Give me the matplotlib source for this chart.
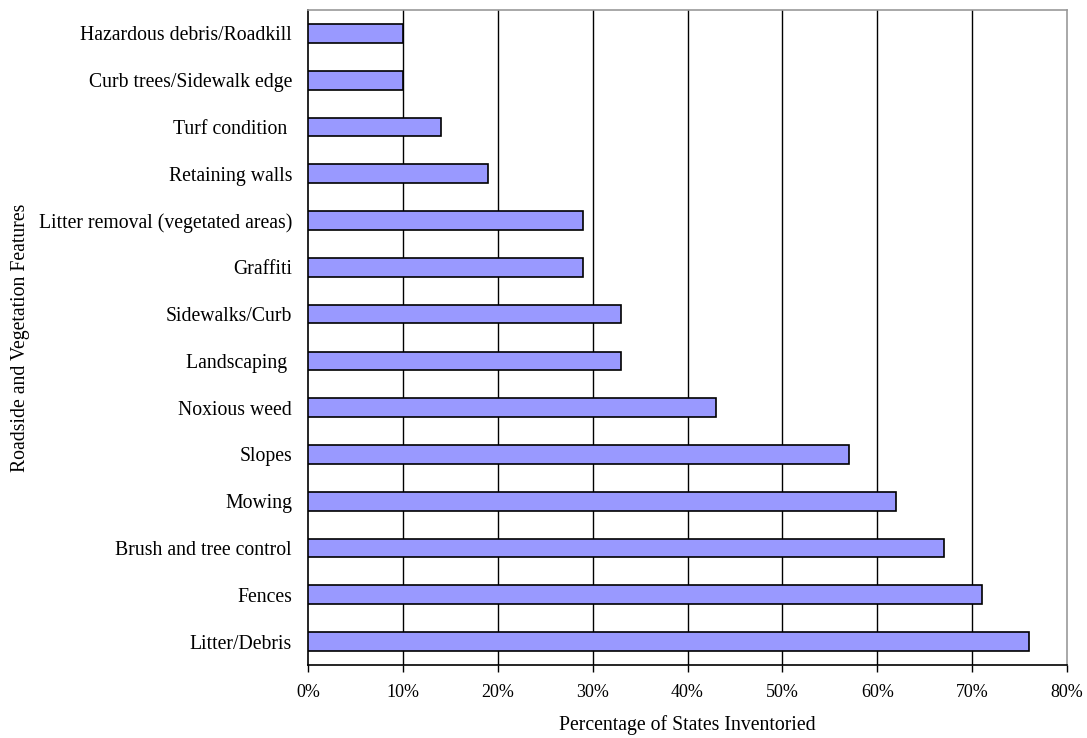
import matplotlib
matplotlib.use("Agg")
import matplotlib.pyplot as plt
from matplotlib.ticker import FuncFormatter

categories = ["Litter/Debris", "Fences", "Brush and tree control", "Mowing", "Slopes",
              "Noxious weed", "Landscaping ", "Sidewalks/Curb", "Graffiti",
              "Litter removal (vegetated areas)", "Retaining walls", "Turf condition ",
              "Curb trees/Sidewalk edge", "Hazardous debris/Roadkill"]
values = [76, 71, 67, 62, 57, 43, 33, 33, 29, 29, 19, 14, 10, 10]
xticks = [0, 10, 20, 30, 40, 50, 60, 70, 80]

plt.rcParams['font.family'] = ['Liberation Serif', 'DejaVu Serif']

fig = plt.figure(figsize=(10.87, 7.38), dpi=100)
ax = fig.add_axes([0.2834, 0.0989, 0.9816 - 0.2834, 0.9864 - 0.0989])

ypos = list(range(len(categories)))
ax.barh(ypos, values, height=0.4, color="#9999FF", edgecolor="black", linewidth=1.2, zorder=3)

ax.set_xlim(0, 80)
ax.set_ylim(-0.5, len(categories) - 0.5)
ax.set_xticks(xticks)
ax.xaxis.set_major_formatter(FuncFormatter(lambda v, p: f"{int(v)}%"))
ax.set_yticks(ypos)
ax.set_yticklabels(categories)
ax.tick_params(axis='y', length=0, pad=11.5, labelsize=14.2)
ax.tick_params(axis='x', length=5, width=1, direction='out', pad=9, labelsize=13)

for x in xticks[1:-1]:
    ax.axvline(x, color="black", linewidth=1, zorder=1)

ax.spines['left'].set_color('black')
ax.spines['bottom'].set_color('black')
ax.spines['top'].set_color('#999999')
ax.spines['right'].set_color('#999999')
for s in ax.spines.values():
    s.set_linewidth(1.2)

ax.set_xlabel("Percentage of States Inventoried", fontsize=14.2, va='center')
ax.xaxis.set_label_coords(0.4993, -0.0916)
ax.set_ylabel("Roadside and Vegetation Features", fontsize=14.2, va='center')
ax.yaxis.set_label_coords(-0.3794, 0.5)

fig.savefig("out.png", dpi=100)
